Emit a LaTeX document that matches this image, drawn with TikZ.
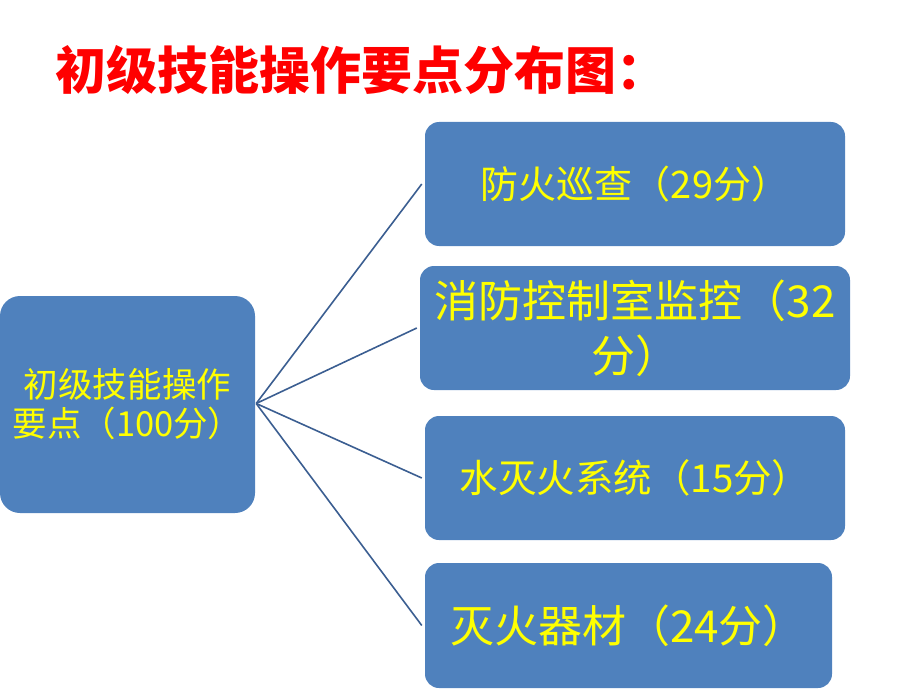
\documentclass[tikz,border=0pt]{standalone}
\usepackage{fontspec}
\setmainfont{Noto Sans CJK SC}
\usetikzlibrary{calc}

\definecolor{boxblue}{HTML}{4F81BD}
\definecolor{linkblue}{HTML}{3B5E91}
\definecolor{txtyellow}{HTML}{FFFF00}

\begin{document}
\begin{tikzpicture}[x=1pt, y=-1pt,
    box/.style={fill=boxblue, rounded corners=14pt, inner sep=0pt, align=center, text=txtyellow},
    link/.style={linkblue, line width=1.6pt}]
    \useasboundingbox (0,0) rectangle (920,690);

    % title
    \node[anchor=west, text=red, font=\fontsize{51}{60}\selectfont\bfseries] (title) at (52,70) {初级技能操作要点分布图：};

    % root box
    \node[box, rounded corners=20pt, minimum width=255pt, minimum height=217pt,
          font=\fontsize{34.5}{39}\selectfont] (root) at (127.5,404.5) {初级技能操作\\要点（100分）};

    % branch boxes
    \node[box, minimum width=420pt, minimum height=124pt, font=\fontsize{38}{44}\selectfont] (b1) at (635,184) {防火巡查（29分）};
    \node[box, minimum width=430pt, minimum height=124pt, font=\fontsize{44}{55}\selectfont] (b2) at (635,328) {消防控制室监控（32\\分）};
    \node[box, minimum width=420pt, minimum height=124pt, font=\fontsize{38.5}{44}\selectfont] (b3) at (635,478) {水灭火系统（15分）};
    \node[box, minimum width=407pt, minimum height=125pt, font=\fontsize{44}{50}\selectfont] (b4) at (628.5,625.5) {灭火器材（24分）};

    % connectors
    \foreach \n in {b1,b2,b3,b4} {
      \draw[link] ($(root.east)+(1,-1)$) -- ($(\n.west)+(-3,0)$);
    }
\end{tikzpicture}
\end{document}
